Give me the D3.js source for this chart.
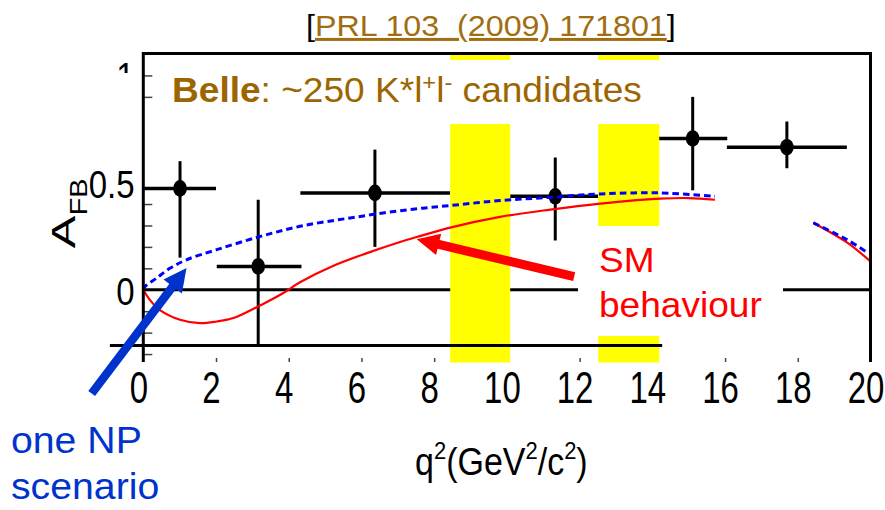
<!DOCTYPE html>
<html>
<head>
<meta charset="utf-8">
<script src="https://cdn.jsdelivr.net/npm/d3@7/dist/d3.min.js"></script>
<style>
  body { margin: 0; background: #fff; }
  svg { display: block; font-family: "Liberation Sans", Arial, sans-serif; }
</style>
</head>
<body>
<svg id="chart" width="885" height="510"></svg>
<script>
// Belle A_FB measurement (bins in q^2)
var binCenter = [1.01, 3.16, 6.37, 11.33, 15.11, 17.70];
var binLow    = [0, 2.02, 4.32, 10.09, 14.16, 16.05];
var binHigh   = [2.0, 4.35, 8.44, 12.51, 16.06, 19.35];
var afb       = [0.473, 0.109, 0.452, 0.436, 0.706, 0.665];
var afbLow    = [0.15, -0.26, 0.20, 0.23, 0.464, 0.567];
var afbHigh   = [0.60, 0.42, 0.654, 0.617, 0.90, 0.785];

// SM prediction (red), below and above the charmonium region
var smQ2      = [0, 0.18, 0.46, 1.01, 1.56, 2.02, 2.48, 3.16, 3.85, 4.31, 5.23, 6.15, 7.06, 7.52, 8.44, 9.81, 11.19, 12.57, 14.21, 15.0, 15.72];
var smAfb     = [0, -0.047, -0.095, -0.14, -0.156, -0.148, -0.132, -0.078, -0.015, 0.035, 0.112, 0.171, 0.223, 0.246, 0.29, 0.34, 0.374, 0.402, 0.425, 0.428, 0.42];
var smQ2High  = [18.42, 19.35, 20];
var smAfbHigh = [0.313, 0.221, 0.132];

// one NP scenario (blue dashed)
var npQ2      = [0, 0.05, 0.37, 0.73, 1.19, 2.02, 3.16, 4.31, 5.69, 7.06, 8.44, 9.81, 11.19, 12.57, 14.21, 15.72];
var npAfb     = [0, 0.015, 0.055, 0.10, 0.14, 0.187, 0.246, 0.296, 0.335, 0.369, 0.393, 0.416, 0.431, 0.447, 0.452, 0.436];
var npQ2High  = [18.43, 19.35, 19.94];
var npAfbHigh = [0.312, 0.234, 0.171];

// vetoed J/psi and psi' windows
var vetoLow  = [8.44, 12.51];
var vetoHigh = [10.09, 14.19];

// axis ticks
var xTicks      = [0, 2, 4, 6, 8, 10, 12, 14, 16, 18, 20];
var yTickLabels = [0, 0.5, 1];
var yMinorTicks = [-0.3, -0.2, -0.1, 0.1, 0.2, 0.3, 0.4, 0.9, 1.0];

var svg = d3.select("#chart");

var x = d3.scaleLinear().domain([0, 20]).range([143.3, 870.5]);
var y = d3.scaleLinear().domain([-0.337, 1.1]).range([362, 54]);

var black = "#000", red = "#ff0000", blue = "#0000ff", arrowBlue = "#0033cc",
    brown = "#9c6500", yellow = "#ffff00";

//text squeezed/stretched like the pasted figure
function stretched(g, txt, px, py, sx, sy, opts) {
  opts = opts || {};
  var t = g.append("text")
    .attr("transform", "translate(" + px + "," + py + ") scale(" + sx + "," + sy + ")" + (opts.rotate ? " rotate(" + opts.rotate + ")" : ""))
    .attr("font-size", opts.size || 33)
    .attr("text-anchor", opts.anchor || "start")
    .attr("fill", opts.fill || black)
    .text(txt);
  return t;
}

var plot = svg.append("g");

// minor ticks on x (pointing up at the bottom) and y (pointing right)
var xAxis = plot.append("g")
  .attr("transform", "translate(0," + y.range()[0] + ")")
  .call(d3.axisTop(x).tickValues(xTicks.slice(1, -1)).tickSize(4).tickFormat(""));
var yAxis = plot.append("g")
  .attr("transform", "translate(" + x(0) + ",0)")
  .call(d3.axisRight(y).tickValues(yMinorTicks).tickSize(9).tickFormat(""));
[xAxis, yAxis].forEach(function(a) {
  a.select(".domain").remove();
  a.selectAll("line").attr("stroke", "#444").attr("stroke-width", 1.5);
});

// zero line
plot.append("line")
  .attr("x1", x(0)).attr("x2", x(20))
  .attr("y1", y(0)).attr("y2", y(0))
  .attr("stroke", black).attr("stroke-width", 3);

// data points with error bars
var pts = d3.range(afb.length);
plot.selectAll(".hbar").data(pts).enter().append("line")
  .attr("x1", function(i) { return x(binLow[i]); })
  .attr("x2", function(i) { return x(binHigh[i]); })
  .attr("y1", function(i) { return y(afb[i]); })
  .attr("y2", function(i) { return y(afb[i]); })
  .attr("stroke", black).attr("stroke-width", 3.5);
plot.selectAll(".vbar").data(pts).enter().append("line")
  .attr("x1", function(i) { return x(binCenter[i]); })
  .attr("x2", function(i) { return x(binCenter[i]); })
  .attr("y1", function(i) { return y(afbLow[i]); })
  .attr("y2", function(i) { return y(afbHigh[i]); })
  .attr("stroke", black).attr("stroke-width", 3);
plot.selectAll(".dot").data(pts).enter().append("ellipse")
  .attr("cx", function(i) { return x(binCenter[i]); })
  .attr("cy", function(i) { return y(afb[i]); })
  .attr("rx", 6.8).attr("ry", 8.3)
  .attr("fill", black);

// vetoed windows cover the bins
plot.selectAll(".veto").data(vetoLow).enter().append("rect")
  .attr("x", function(d) { return x(d); })
  .attr("width", function(d, i) { return x(vetoHigh[i]) - x(d); })
  .attr("y", y.range()[1] + 1)
  .attr("height", y.range()[0] - y.range()[1] - 0.5)
  .attr("fill", yellow);

// theory curves
var line = d3.line()
  .x(function(d) { return x(d[0]); })
  .y(function(d) { return y(d[1]); })
  .curve(d3.curveCatmullRom.alpha(0.5));

[[smQ2, smAfb], [smQ2High, smAfbHigh]].forEach(function(c) {
  plot.append("path").datum(d3.zip(c[0], c[1]))
    .attr("d", line).attr("fill", "none")
    .attr("stroke", red).attr("stroke-width", 2.2);
});
[[npQ2, npAfb], [npQ2High, npAfbHigh]].forEach(function(c) {
  plot.append("path").datum(d3.zip(c[0], c[1]))
    .attr("d", line).attr("fill", "none")
    .attr("stroke", blue).attr("stroke-width", 3)
    .attr("stroke-dasharray", "6.5,4");
});

// lower horizontal line left over from the pasted frame
plot.append("line")
  .attr("x1", x(-0.92)).attr("x2", x(14.27))
  .attr("y1", y(-0.26)).attr("y2", y(-0.26))
  .attr("stroke", black).attr("stroke-width", 2.8);

// frame: left, top, right
plot.append("path")
  .attr("d", "M" + x(0) + "," + y.range()[0] + "V" + (y.range()[1] - 0.5) + "H" + x(20) + "V" + y.range()[0])
  .attr("fill", "none").attr("stroke", black).attr("stroke-width", 3);

// tick labels
var labels = svg.append("g");
xTicks.forEach(function(t) {
  stretched(labels, t, x(t) - 4.5, 403, 1, 1.32, { anchor: "middle" });
});
yTickLabels.forEach(function(t) {
  stretched(labels, t, 134.5, y(t) + 15, 1, 1.2, { anchor: "end" });
});

// white cut-outs of the slide
var patches = [
  [153, 60, 663, 124],   // Belle caption box
  [578, 226, 783, 336],  // SM label box
  [715, 190, 813, 275],  // gap in the curves
  [100, 73, 141, 165]    // over the "1" label
];
svg.selectAll(".patch").data(patches).enter().append("rect")
  .attr("x", function(d) { return d[0]; })
  .attr("y", function(d) { return d[1]; })
  .attr("width", function(d) { return d[2] - d[0]; })
  .attr("height", function(d) { return d[3] - d[1]; })
  .attr("fill", "#fff");

// y axis title A_FB
stretched(svg, "A", 75, 248.3, 1, 1.5, { size: 32.5, rotate: -90 });
stretched(svg, "FB", 86.7, 215.3, 1, 1.25, { size: 23, rotate: -90 });

// x axis title
var xt = svg.append("text")
  .attr("transform", "translate(415,475) scale(1,1.12)")
  .attr("font-size", 34).attr("fill", black);
xt.append("tspan").text("q");
xt.append("tspan").attr("font-size", 22).attr("dy", -14).text("2");
xt.append("tspan").attr("dy", 14).text("(GeV");
xt.append("tspan").attr("font-size", 22).attr("dy", -14).text("2");
xt.append("tspan").attr("dy", 14).text("/c");
xt.append("tspan").attr("font-size", 22).attr("dy", -14).text("2");
xt.append("tspan").attr("dy", 14).text(")");

// arrows
function arrow(tail, tip, color, width, headLen, headHalf) {
  var x0 = x(tail[0]), y0 = y(tail[1]), x1 = x(tip[0]), y1 = y(tip[1]);
  var dx = x1 - x0, dy = y1 - y0, len = Math.sqrt(dx * dx + dy * dy);
  var ux = dx / len, uy = dy / len;
  var bx = x1 - ux * headLen, by = y1 - uy * headLen;
  svg.append("line")
    .attr("x1", x0).attr("y1", y0).attr("x2", bx + ux * 2).attr("y2", by + uy * 2)
    .attr("stroke", color).attr("stroke-width", width);
  svg.append("path")
    .attr("d", "M" + x1 + "," + y1 +
      "L" + (bx - uy * headHalf) + "," + (by + ux * headHalf) +
      "L" + (bx + uy * headHalf) + "," + (by - ux * headHalf) + "Z")
    .attr("fill", color);
}
arrow([-1.42, -0.484], [1.19, 0.101], arrowBlue, 8.5, 23, 11.5);
arrow([11.85, 0.061], [7.52, 0.236], red, 9, 22.5, 11);

// slide annotations (the slide font runs a bit wider than Liberation Sans)
var wide = 1.075;
function slideText(px, py, size, fill) {
  return svg.append("text")
    .attr("transform", "translate(" + px + "," + py + ") scale(" + wide + ",1)")
    .attr("font-size", size).attr("fill", fill)
    .style("white-space", "pre");
}

var ref = slideText(306, 36, 30, black);
ref.append("tspan").text("[");
ref.append("tspan").attr("fill", "#a06e10").attr("text-decoration", "underline").text("PRL 103  (2009) 171801");
ref.append("tspan").text("]");

var belle = slideText(172, 101.7, 34.5, brown);
belle.append("tspan").attr("font-weight", "bold").text("Belle");
belle.append("tspan").text(": ~250 K*l");
belle.append("tspan").attr("font-size", 22).attr("dy", -12).text("+");
belle.append("tspan").attr("dy", 12).text("l");
belle.append("tspan").attr("font-size", 22).attr("dy", -12).text("-");
belle.append("tspan").attr("dy", 12).text(" candidates");

slideText(599, 271.7, 34.5, red).text("SM");
slideText(599, 316.7, 34.5, red).text("behaviour");

slideText(11, 453, 36.5, arrowBlue).text("one NP");
slideText(11, 499, 36.5, arrowBlue).text("scenario");
</script>
</body>
</html>
